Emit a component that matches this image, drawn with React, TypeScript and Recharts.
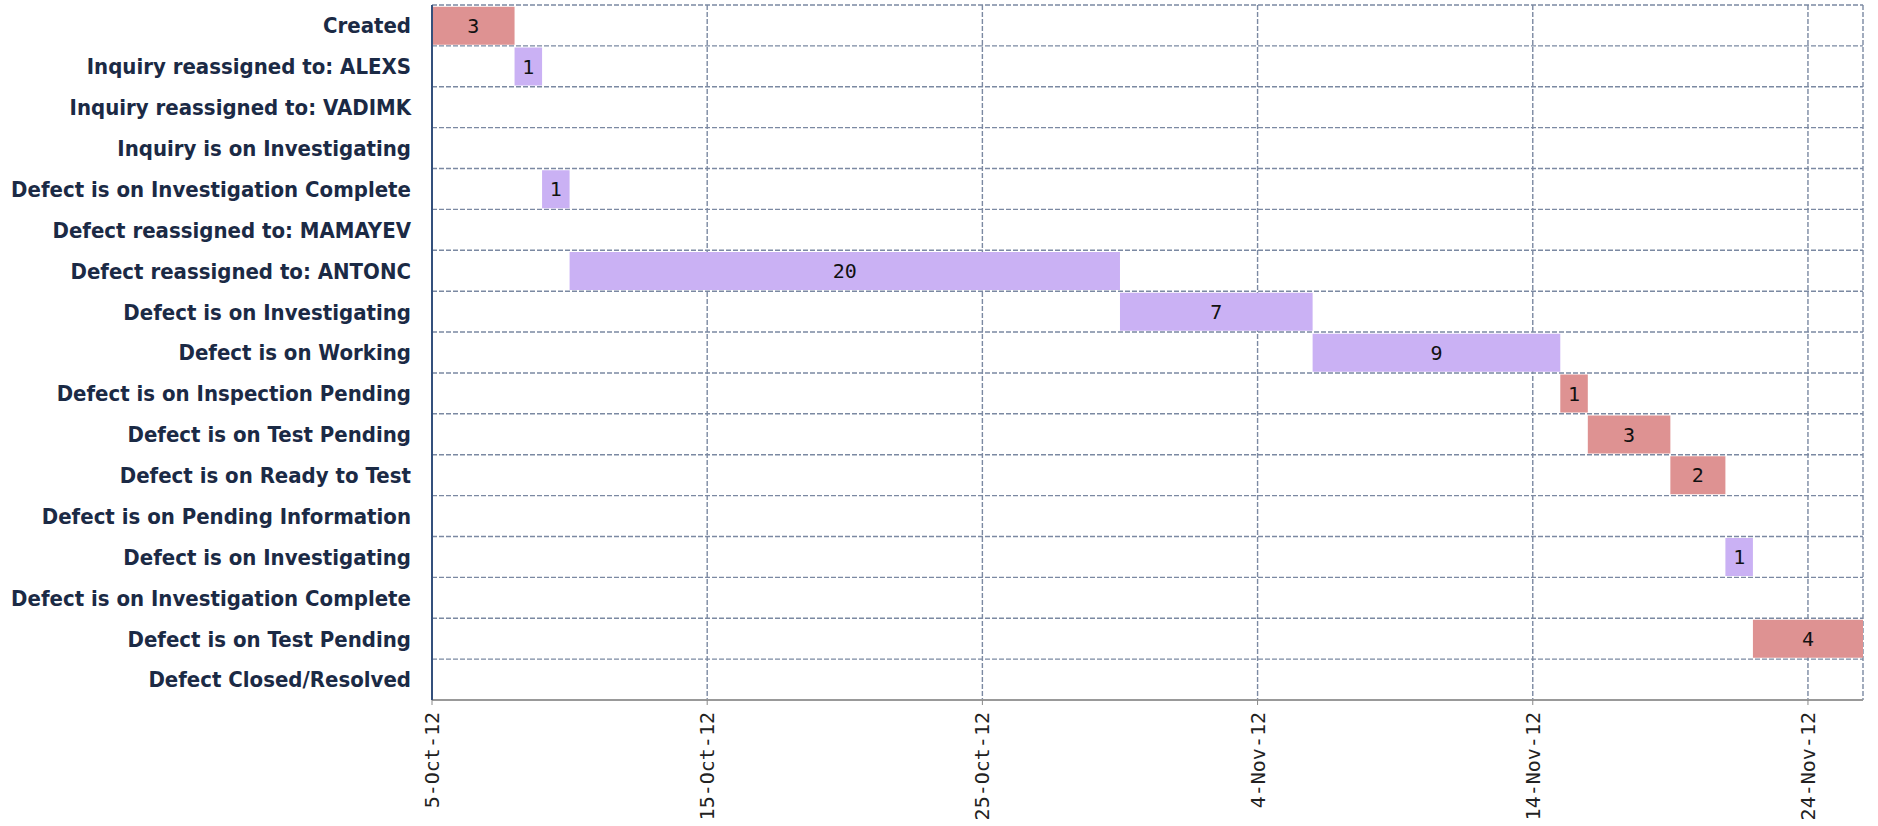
import React from "react";
import {
  BarChart,
  Bar,
  XAxis,
  YAxis,
  CartesianGrid,
  Cell,
  LabelList,
} from "recharts";

// timeline of one defect, in days counted from 5-Oct-12
const steps = [
  "Created",
  "Inquiry reassigned to: ALEXS",
  "Inquiry reassigned to: VADIMK",
  "Inquiry is on Investigating",
  "Defect is on Investigation Complete",
  "Defect reassigned to: MAMAYEV",
  "Defect reassigned to: ANTONC",
  "Defect is on Investigating",
  "Defect is on Working",
  "Defect is on Inspection Pending",
  "Defect is on Test Pending",
  "Defect is on Ready to Test",
  "Defect is on Pending Information",
  "Defect is on Investigating",
  "Defect is on Investigation Complete",
  "Defect is on Test Pending",
  "Defect Closed/Resolved",
];
const startDay = [0, 3, 4, 4, 4, 5, 5, 25, 32, 41, 42, 45, 47, 47, 48, 48, 52];
const durationDays = [3, 1, 0, 0, 1, 0, 20, 7, 9, 1, 3, 2, 0, 1, 0, 4, 0];
// "wait" = waiting on customer side (red), "work" = support side (purple)
const side = [
  "wait", "work", "work", "work", "work", "work", "work", "work", "work",
  "wait", "wait", "wait", "wait", "work", "work", "wait", "wait",
];
const dayTicks = [0, 10, 20, 30, 40, 50];
const lastDay = 52;
const monthNames = ["Jan", "Feb", "Mar", "Apr", "May", "Jun", "Jul", "Aug", "Sep", "Oct", "Nov", "Dec"];

const sideColors: Record<string, string> = { wait: "#DE9292", work: "#CAB1F4" };
const navy = "#34507c";
const gridColor = "#7b89a2";

const rows = steps.map((name, i) => ({
  name,
  offset: startDay[i],
  days: durationDays[i],
  side: side[i],
}));

function dayLabel(day: number) {
  const d = new Date(2012, 9, 5 + day);
  return `${d.getDate()}-${monthNames[d.getMonth()]}-${String(d.getFullYear()).slice(2)}`;
}

function DateTick({ x, y, payload }: any) {
  return (
    <g transform={`translate(${x},${y + 5})`}>
      <text
        transform="rotate(-90)"
        textAnchor="end"
        dy="0.35em"
        fill="#222"
        fontSize={20}
        fontFamily="'DejaVu Sans Mono', monospace"
      >
        {dayLabel(payload.value)}
      </text>
    </g>
  );
}

// narrow bold labels, squeezed a bit like the original condensed font
function StepTick({ x, y, payload }: any) {
  return (
    <g transform={`translate(${x},${y}) scale(0.9,1)`}>
      <text
        textAnchor="end"
        dy="0.36em"
        fill="#1b2a45"
        fontSize={22}
        fontWeight="bold"
        fontFamily="'DejaVu Sans', sans-serif"
      >
        {payload.value}
      </text>
    </g>
  );
}

export default function App() {
  return (
    <div style={{ position: "absolute", left: 0, top: 0, background: "#fff" }}>
      <BarChart
        width={1878}
        height={826}
        data={rows}
        layout="vertical"
        barCategoryGap="4%"
        margin={{ top: 5, right: 15, bottom: 0, left: 0 }}
      >
        <CartesianGrid
          stroke={gridColor}
          strokeWidth={1.4}
          strokeDasharray="5 2"
          horizontalCoordinatesGenerator={({ offset }: any) =>
            steps.map((_, i) => offset.top + (offset.height * i) / steps.length)
          }
        />
        <XAxis
          type="number"
          domain={[0, lastDay]}
          ticks={dayTicks}
          allowDataOverflow
          height={126}
          tickSize={5}
          tickLine={{ stroke: "#888" }}
          axisLine={{ stroke: "#999", strokeWidth: 2 }}
          tick={<DateTick />}
        />
        <XAxis
          xAxisId="top"
          orientation="top"
          type="number"
          domain={[0, lastDay]}
          height={0}
          tick={false}
          tickLine={false}
          axisLine={{ stroke: navy, strokeWidth: 2 }}
        />
        <YAxis
          type="category"
          dataKey="name"
          width={432}
          tickSize={0}
          tickMargin={21}
          axisLine={{ stroke: navy, strokeWidth: 2 }}
          tick={<StepTick />}
        />
        <YAxis
          yAxisId="right"
          orientation="right"
          type="category"
          dataKey="name"
          width={0}
          tick={false}
          tickLine={false}
          axisLine={{ stroke: navy, strokeWidth: 2 }}
        />
        <Bar dataKey="offset" stackId="gantt" fill="transparent" isAnimationActive={false} />
        <Bar dataKey="days" stackId="gantt" isAnimationActive={false}>
          {rows.map((r, i) => (
            <Cell key={i} fill={sideColors[r.side]} />
          ))}
          <LabelList
            dataKey="days"
            position="center"
            formatter={(v: any) => (v > 0 ? v : "")}
            fill="#111"
            fontSize={20}
            fontFamily="'DejaVu Sans Mono', monospace"
          />
        </Bar>
      </BarChart>
    </div>
  );
}
